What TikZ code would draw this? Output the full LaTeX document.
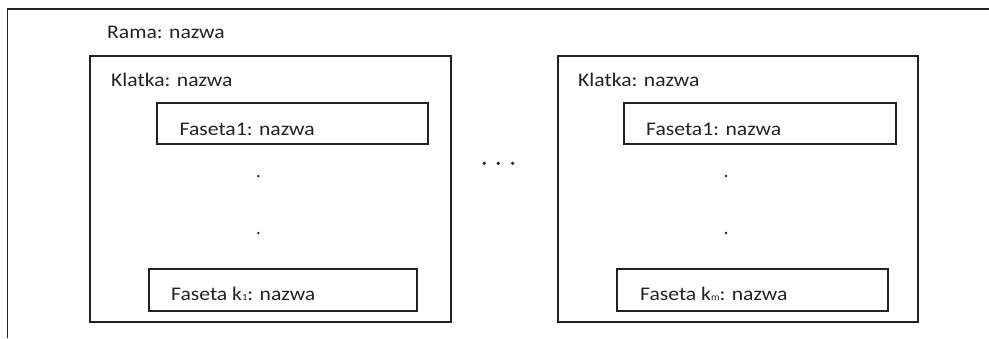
\documentclass[tikz,border=0pt]{standalone}
\usepackage{fontspec}
\setmainfont{Carlito}[FakeStretch=1.12]
\definecolor{ink}{HTML}{222222}
\tikzset{
  box/.style={draw=ink, line width=1.9pt, rectangle, inner sep=0pt},
  lbl/.style={anchor=base west, inner sep=0pt, text=ink, font=\fontsize{19.3pt}{22pt}\selectfont},
  dotmark/.style={circle, fill=ink, inner sep=0pt, minimum size=2.6pt},
  bigdot/.style={circle, fill=ink, inner sep=0pt, minimum size=3.6pt}
}
\newcommand{\sbs}[1]{\raisebox{-0.5pt}{\fontsize{9.5pt}{10pt}\selectfont #1}}
\begin{document}
\begin{tikzpicture}[x=1pt,y=-1pt]
\useasboundingbox (0,0) rectangle (989,338);
% outer frame (open on right and bottom)
\coordinate (fb) at (7.5,338);
\coordinate (fc) at (7.5,8.7);
\coordinate (fr) at (989,8.7);
\draw[ink, line width=1.9pt] (fb) -- (fc) -- (fr);
\node[lbl] (rama) at (107,38.5) {Rama: nazwa};
% left frame
\node[box, minimum width=361pt, minimum height=266pt] (kl) at (270.5,189) {};
\node[lbl] (klt) at (111,86) {Klatka: nazwa};
\node[box, minimum width=271pt, minimum height=41pt] (fl1) at (292.5,123.5) {};
\node[lbl] (fl1t) at (179.5,135) {Faseta1: nazwa};
\node[dotmark] (dl1) at (258.3,176) {};
\node[dotmark] (dl2) at (258.3,233) {};
\node[box, minimum width=268pt, minimum height=42pt] (flk) at (283,290) {};
\node[lbl] (flkt) at (171,300) {Faseta k\sbs{1}: nazwa};
% ellipsis
\node[bigdot] (e1) at (484.3,163.3) {};
\node[bigdot] (e2) at (498.3,163.3) {};
\node[bigdot] (e3) at (512.7,163.3) {};
% right frame
\node[box, minimum width=360pt, minimum height=266pt] (kr) at (738,189) {};
\node[lbl] (krt) at (578,86) {Klatka: nazwa};
\node[box, minimum width=272pt, minimum height=41pt] (fr1) at (760,123.5) {};
\node[lbl] (fr1t) at (646,135) {Faseta1: nazwa};
\node[dotmark] (dr1) at (726,176) {};
\node[dotmark] (dr2) at (726,233) {};
\node[box, minimum width=271pt, minimum height=42pt] (frk) at (752.5,290) {};
\node[lbl] (frkt) at (640,300) {Faseta k\sbs{m}: nazwa};
\end{tikzpicture}
\end{document}
